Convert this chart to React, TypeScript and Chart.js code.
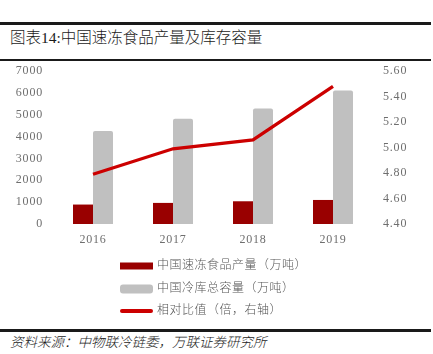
import React, { useEffect, useRef } from "react";
import { Chart, registerables } from "chart.js";

Chart.register(...registerables);

const categories = ["2016", "2017", "2018", "2019"];
const productionLabel = "中国速冻食品产量（万吨）";
const storageLabel = "中国冷库总容量（万吨）";
const ratioLabel = "相对比值（倍，右轴）";
const production = [890, 965, 1040, 1100];
const storage = [4250, 4810, 5290, 6110];
const ratio = [4.79, 4.99, 5.06, 5.48];
const leftTicks = [0, 7000, 1000];
const rightTicks = [4.4, 5.6, 0.2];

const titleText = "图表14:中国速冻食品产量及库存容量";
const sourceText = "资料来源：中物联冷链委，万联证券研究所";

const FONT = '"Liberation Serif", "Noto Sans CJK SC", serif';
const TICK_COLOR = "#6e6e6e";

const spacingPlugin = {
  id: "tickSpacing",
  beforeDraw(chart: any) {
    (chart.ctx as any).letterSpacing = "0.8px";
  },
  afterDatasetsDraw(chart: any) {
    (chart.ctx as any).letterSpacing = "0px";
  },
};

const legendPlugin = {
  id: "customLegend",
  afterDraw(chart: any) {
    const ctx = chart.ctx;
    const area = chart.chartArea;
    ctx.save();
    (ctx as any).letterSpacing = "0.5px";
    ctx.font = `300 12px ${FONT}`;
    ctx.textBaseline = "middle";
    ctx.textAlign = "left";
    const offsets = [42, 65, 87];
    const boxX = 120;
    const boxW = 33;
    chart.data.datasets.forEach((ds: any, i: number) => {
      const y = area.bottom + offsets[i];
      if (ds.type === "line") {
        ctx.strokeStyle = ds.borderColor;
        ctx.lineWidth = 4;
        ctx.lineCap = "round";
        ctx.beginPath();
        ctx.moveTo(boxX + 2, y);
        ctx.lineTo(boxX + boxW - 2, y);
        ctx.stroke();
      } else {
        ctx.fillStyle = ds.backgroundColor;
        const h = i === 0 ? 7 : 9;
        if (i === 0) {
          ctx.fillRect(boxX, y - h / 2, boxW, h);
        } else {
          ctx.beginPath();
          (ctx as any).roundRect(boxX, y - h / 2, boxW, h, 3);
          ctx.fill();
        }
      }
      ctx.fillStyle = "#555555";
      ctx.fillText(ds.label, boxX + boxW + 4, y);
    });
    ctx.restore();
  },
};

const fitVertical = (w: number) => (s: any) => {
  s.width = w;
  s.paddingTop = 0;
  s.paddingBottom = 0;
};

export default function App() {
  const canvasRef = useRef<HTMLCanvasElement | null>(null);

  useEffect(() => {
    if (!canvasRef.current) return;
    const chart = new Chart(canvasRef.current, {
      type: "bar",
      data: {
        labels: categories,
        datasets: [
          {
            type: "bar",
            label: productionLabel,
            data: production,
            backgroundColor: "#990000",
            yAxisID: "y",
            order: 1,
            categoryPercentage: 0.5,
            barPercentage: 1.0,
          },
          {
            type: "bar",
            label: storageLabel,
            data: storage,
            backgroundColor: "#C0C0C0",
            yAxisID: "y",
            order: 1,
            categoryPercentage: 0.5,
            barPercentage: 1.0,
            borderRadius: { topLeft: 2, topRight: 2 },
          },
          {
            type: "line",
            label: ratioLabel,
            data: ratio,
            borderColor: "#CC0000",
            backgroundColor: "#CC0000",
            borderWidth: 3.3,
            pointRadius: 0,
            tension: 0,
            yAxisID: "y1",
            order: 0,
          },
        ] as any,
      },
      options: {
        animation: false,
        responsive: false,
        maintainAspectRatio: false,
        layout: { padding: { top: 9, left: 0, right: 0, bottom: 78 } },
        plugins: {
          legend: { display: false },
          tooltip: { enabled: false },
          title: { display: false },
        },
        scales: {
          x: {
            grid: { display: false, drawTicks: false },
            border: { display: false },
            ticks: {
              color: TICK_COLOR,
              font: { family: FONT, size: 12 },
              padding: 9,
            },
            afterFit: (s: any) => {
              s.height = 25;
              s.paddingLeft = 0;
              s.paddingRight = 0;
            },
          },
          y: {
            position: "left",
            min: leftTicks[0],
            max: leftTicks[1],
            grid: { display: false, drawTicks: false },
            border: { display: false },
            ticks: {
              stepSize: leftTicks[2],
              color: TICK_COLOR,
              font: { family: FONT, size: 12 },
              padding: 10,
              callback: (v: any) => String(v),
            },
            afterFit: fitVertical(53),
          },
          y1: {
            position: "right",
            min: rightTicks[0],
            max: rightTicks[1],
            grid: { display: false, drawTicks: false },
            border: { display: false },
            ticks: {
              stepSize: rightTicks[2],
              color: TICK_COLOR,
              font: { family: FONT, size: 12 },
              padding: 10,
              callback: (v: any) => Number(v).toFixed(2),
            },
            afterFit: fitVertical(60),
          },
        },
      } as any,
      plugins: [spacingPlugin, legendPlugin],
    });
    return () => chart.destroy();
  }, []);

  return (
    <div
      style={{
        position: "absolute",
        left: 0,
        top: 0,
        width: 433,
        height: 354,
        background: "#fff",
        overflow: "hidden",
      }}
    >
      <div style={{ position: "absolute", left: 0, top: 22, width: 431, height: 3, background: "#1a1a1a" }} />
      <div
        style={{
          position: "absolute",
          left: 10,
          top: 28,
          fontFamily: FONT,
          fontSize: 15.5,
          fontWeight: 300,
          lineHeight: "20px",
          color: "#1a1a1a",
          whiteSpace: "nowrap",
        }}
      >
        {titleText}
      </div>
      <div style={{ position: "absolute", left: 0, top: 59, width: 431, height: 2, background: "#1a1a1a" }} />
      <canvas
        ref={canvasRef}
        width={433}
        height={265}
        style={{ position: "absolute", left: 0, top: 62, width: 433, height: 265 }}
      />
      <div style={{ position: "absolute", left: 0, top: 329, width: 431, height: 3, background: "#1a1a1a" }} />
      <div
        style={{
          position: "absolute",
          left: 10,
          top: 334,
          fontFamily: FONT,
          fontStyle: "italic",
          fontWeight: 300,
          fontSize: 13.5,
          lineHeight: "18px",
          color: "#1a1a1a",
          whiteSpace: "nowrap",
        }}
      >
        {sourceText}
      </div>
    </div>
  );
}
